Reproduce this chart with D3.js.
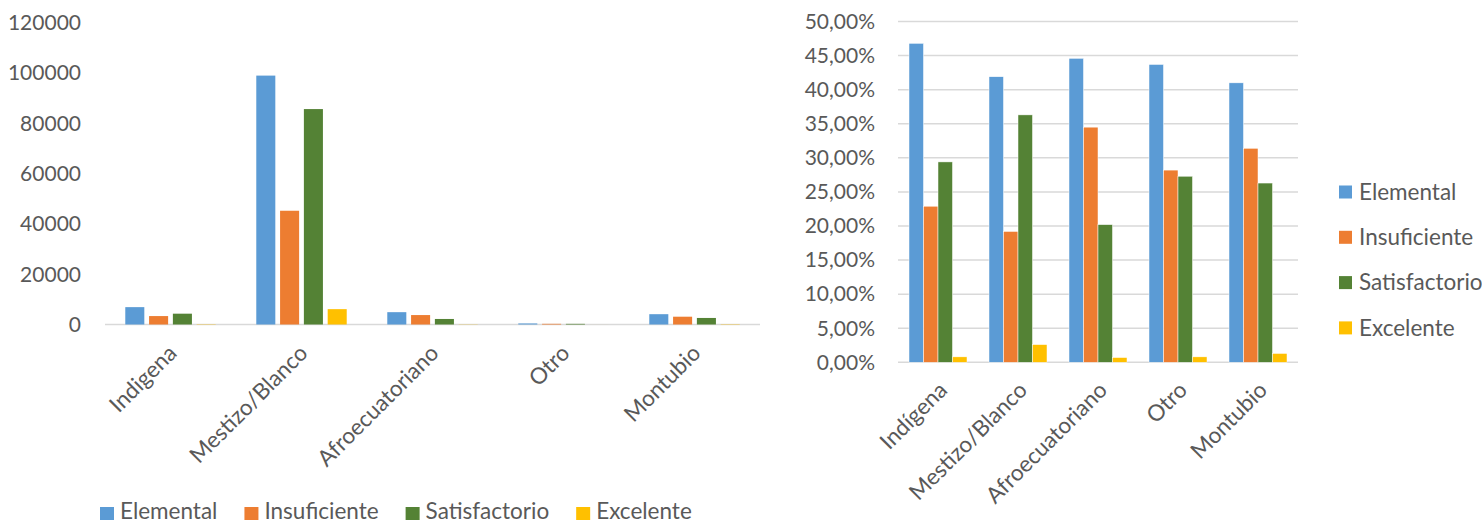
<!DOCTYPE html>
<html lang="es">
<head>
<meta charset="UTF-8">
<title>Niveles de logro por etnia</title>
<script src="https://d3js.org/d3.v7.min.js"></script>
<style>
  body { margin: 0; background: #fff; }
  svg { display: block; }
  text { font-family: Lato, 'Open Sans', sans-serif; fill: #595959; }
</style>
</head>
<body>
<svg id="chart" width="1482" height="523"></svg>
<script>
// categories and series
const categories = ["Indigena", "Mestizo/Blanco", "Afroecuatoriano", "Otro", "Montubio"];
const categoriesPct = ["Indígena", "Mestizo/Blanco", "Afroecuatoriano", "Otro", "Montubio"];
const series = ["Elemental", "Insuficiente", "Satisfactorio", "Excelente"];
const colors = ["#5B9BD5", "#ED7D31", "#548235", "#FFC000"];

// counts (left chart), one array per series, in category order
const elementalCount     = [6900, 98900, 4900, 420, 4100];
const insuficienteCount  = [3350, 45200, 3750, 270, 3100];
const satisfactorioCount = [4300, 85600, 2200, 260, 2600];
const excelenteCount     = [120, 6100, 75, 8, 125];

// percentages (right chart)
const elementalPct     = [0.468, 0.419, 0.446, 0.437, 0.410];
const insuficientePct  = [0.229, 0.192, 0.345, 0.282, 0.314];
const satisfactorioPct = [0.294, 0.363, 0.202, 0.273, 0.263];
const excelentePct     = [0.008, 0.026, 0.007, 0.008, 0.013];

const countTicks = [0, 20000, 40000, 60000, 80000, 100000, 120000];
const pctTicks = d3.range(0, 0.5001, 0.05);

const countRows = [elementalCount, insuficienteCount, satisfactorioCount, excelenteCount];
const pctRows = [elementalPct, insuficientePct, satisfactorioPct, excelentePct];

const svg = d3.select("#chart");
const tickSize = 21;
const labelSize = 22.5;
const esLocale = d3.formatLocale({ decimal: ",", thousands: ".", grouping: [3], currency: ["$", ""] });
const fmtPct = esLocale.format(".2%");

// ---------- left chart: counts ----------
{
  const x0 = d3.scaleBand().domain(categories).range([105, 760]);
  const x1 = d3.scaleBand().domain(series).range([17.9, 113.1]).paddingInner(0.2).paddingOuter(0.1);
  const y = d3.scaleLinear().domain([0, 120000]).range([324.5, 22.5]);

  const g = svg.append("g");

  g.append("line")
    .attr("x1", 105).attr("x2", 760)
    .attr("y1", y(0)).attr("y2", y(0))
    .attr("stroke", "#D9D9D9").attr("stroke-width", 1.5);

  g.selectAll(".ytick").data(countTicks).enter().append("text")
    .attr("x", 81).attr("y", d => y(d))
    .attr("dy", "0.35em")
    .attr("text-anchor", "end")
    .style("font-size", tickSize + "px")
    .text(d => d);

  series.forEach((s, si) => {
    g.selectAll(".bar-" + si).data(categories).enter().append("rect")
      .attr("x", c => x0(c) + x1(s))
      .attr("width", x1.bandwidth())
      .attr("y", (c, ci) => y(countRows[si][ci]))
      .attr("height", (c, ci) => y(0) - y(countRows[si][ci]))
      .attr("fill", colors[si]);
  });

  g.selectAll(".xlab").data(categories).enter().append("text")
    .attr("transform", c => `translate(${x0(c) + x0.bandwidth() / 2 + 2}, 349) rotate(-45)`)
    .attr("text-anchor", "end")
    .attr("dy", "0.35em")
    .style("font-size", labelSize + "px")
    .text(c => c);

  // bottom legend
  let lx = 100;
  series.forEach((s, si) => {
    svg.append("rect").attr("x", lx).attr("y", 507).attr("width", 14).attr("height", 13).attr("fill", colors[si]);
    const t = svg.append("text").attr("x", lx + 20).attr("y", 519)
      .style("font-size", labelSize + "px").text(s);
    lx += 20 + t.node().getComputedTextLength() + 27;
  });
}

// ---------- right chart: percentages ----------
{
  const x0 = d3.scaleBand().domain(categoriesPct).range([898, 1298]);
  const x1 = d3.scaleBand().domain(series).range([11, 69]);
  const y = d3.scaleLinear().domain([0, 0.5]).range([362.3, 21.5]);

  const g = svg.append("g");

  g.selectAll(".grid").data(pctTicks).enter().append("line")
    .attr("x1", 898).attr("x2", 1298)
    .attr("y1", d => y(d)).attr("y2", d => y(d))
    .attr("stroke", "#D9D9D9").attr("stroke-width", 1.5);

  g.selectAll(".ytick").data(pctTicks).enter().append("text")
    .attr("x", 875).attr("y", d => y(d))
    .attr("dy", "0.35em")
    .attr("text-anchor", "end")
    .style("font-size", tickSize + "px")
    .text(d => fmtPct(d));

  series.forEach((s, si) => {
    g.selectAll(".bar-" + si).data(categoriesPct).enter().append("rect")
      .attr("x", c => x0(c) + x1(s))
      .attr("width", x1.bandwidth())
      .attr("y", (c, ci) => y(pctRows[si][ci]))
      .attr("height", (c, ci) => y(0) - y(pctRows[si][ci]))
      .attr("fill", colors[si])
      .attr("stroke", "#fff").attr("stroke-width", 0.5);
  });

  g.selectAll(".xlab").data(categoriesPct).enter().append("text")
    .attr("transform", c => `translate(${x0(c) + x0.bandwidth() / 2 + 5}, 386) rotate(-45)`)
    .attr("text-anchor", "end")
    .attr("dy", "0.35em")
    .style("font-size", labelSize + "px")
    .text(c => c);

  // right legend
  series.forEach((s, si) => {
    const cy = 192 + si * 45.3;
    svg.append("rect").attr("x", 1339).attr("y", cy - 6.5).attr("width", 13).attr("height", 13).attr("fill", colors[si]);
    svg.append("text").attr("x", 1359).attr("y", cy).attr("dy", "0.35em")
      .style("font-size", labelSize + "px").text(s);
  });
}
</script>
</body>
</html>
